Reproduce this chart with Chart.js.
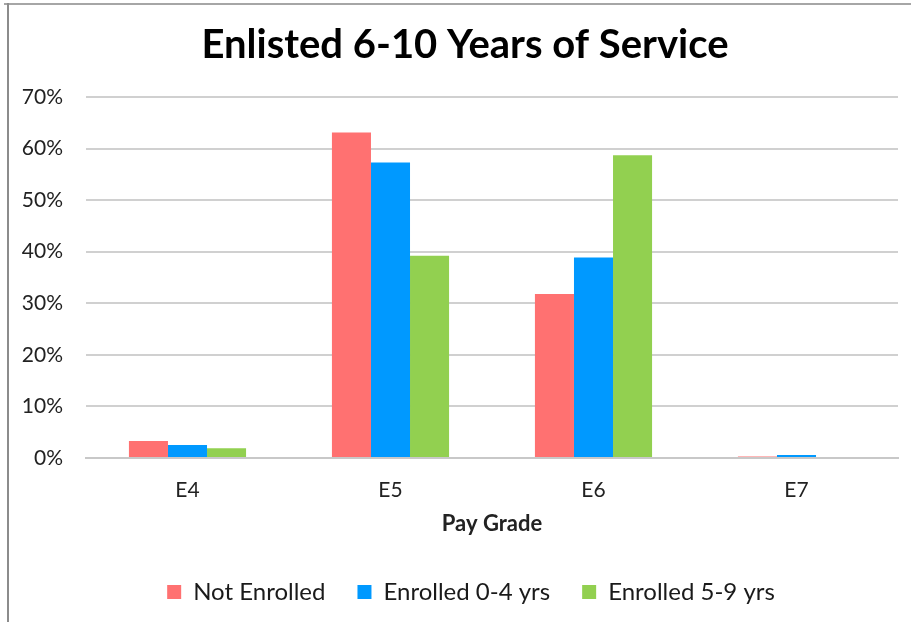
<!DOCTYPE html>
<html>
<head>
<meta charset="utf-8">
<script src="https://cdn.jsdelivr.net/npm/chart.js@4/dist/chart.umd.min.js"></script>
<style>
  html, body { margin: 0; padding: 0; background: #fff; }
  #wrap { position: relative; width: 911px; height: 622px; overflow: hidden; }
  #c { position: absolute; left: 0; top: 0; }
  #bt { position: absolute; left: 4px; top: 3px; width: 907px; height: 2px; background: #a6a6a6; }
  #bl { position: absolute; left: 7px; top: 3px; width: 2px; height: 619px; background: #8c8c8c; }
</style>
</head>
<body>
<div id="wrap">
  <canvas id="c" width="911" height="622"></canvas>
  <div id="bt"></div>
  <div id="bl"></div>
</div>
<script>
const categories = ['E4', 'E5', 'E6', 'E7'];
const seriesNames = ['Not Enrolled', 'Enrolled 0-4 yrs', 'Enrolled 5-9 yrs'];
const notEnrolled = [3.3, 63.1, 31.8, 0.3];
const enrolled04 = [2.5, 57.3, 38.9, 0.6];
const enrolled59 = [1.9, 39.2, 58.7, 0];
const yTicks = [0, 10, 20, 30, 40, 50, 60, 70];

const FONT = 'Lato, "Open Sans", sans-serif';
const colors = ['#FF7171', '#0099FF', '#92D050'];

// shift legend row and title slightly right, as in the reference layout
const blockShift = {
  id: 'blockShift',
  afterLayout(chart) {
    if (chart.legend) { chart.legend.left += 22; chart.legend.right += 22; }
    if (chart.titleBlock) { chart.titleBlock.left += 16; chart.titleBlock.right += 16; }
  }
};

new Chart(document.getElementById('c'), {
  type: 'bar',
  data: {
    labels: categories,
    datasets: [notEnrolled, enrolled04, enrolled59].map((d, i) => ({
      label: seriesNames[i],
      data: d,
      backgroundColor: colors[i],
      borderWidth: 0,
      barPercentage: 1.0,
      categoryPercentage: 0.577
    }))
  },
  plugins: [blockShift],
  options: {
    responsive: false,
    animation: false,
    devicePixelRatio: 1,
    layout: { padding: { left: 0, right: 13, top: 0, bottom: 8 } },
    plugins: {
      title: {
        display: true,
        text: 'Enlisted 6-10 Years of Service',
        color: '#000',
        font: { family: FONT, size: 40, weight: 'bold', lineHeight: 1.2 },
        padding: { top: 21, bottom: 28 }
      },
      legend: {
        position: 'bottom',
        labels: {
          color: '#1a1a1a',
          font: { family: FONT, size: 24 },
          boxWidth: 14,
          boxHeight: 14,
          padding: 32
        }
      },
      tooltip: { enabled: false }
    },
    scales: {
      x: {
        grid: { display: false, drawTicks: false },
        border: { display: true, color: '#c8c8c8', width: 2 },
        ticks: { color: '#222', font: { family: FONT, size: 21 }, padding: 20 },
        title: {
          display: true,
          text: 'Pay Grade',
          color: '#222',
          font: { family: FONT, size: 22, weight: 'bold', lineHeight: 1.2 },
          padding: { top: 4, bottom: 11 }
        },
        afterFit: s => { s.height = 90; }
      },
      y: {
        min: 0,
        max: 70,
        afterBuildTicks: s => { s.ticks = yTicks.map(v => ({ value: v })); },
        grid: { color: '#d0d0d0', lineWidth: 2, drawTicks: false },
        border: { display: false },
        ticks: {
          color: '#222',
          font: { family: FONT, size: 21 },
          padding: 23,
          callback: v => v + '%'
        },
        afterFit: s => { s.width = 86; }
      }
    }
  }
});
</script>
</body>
</html>
